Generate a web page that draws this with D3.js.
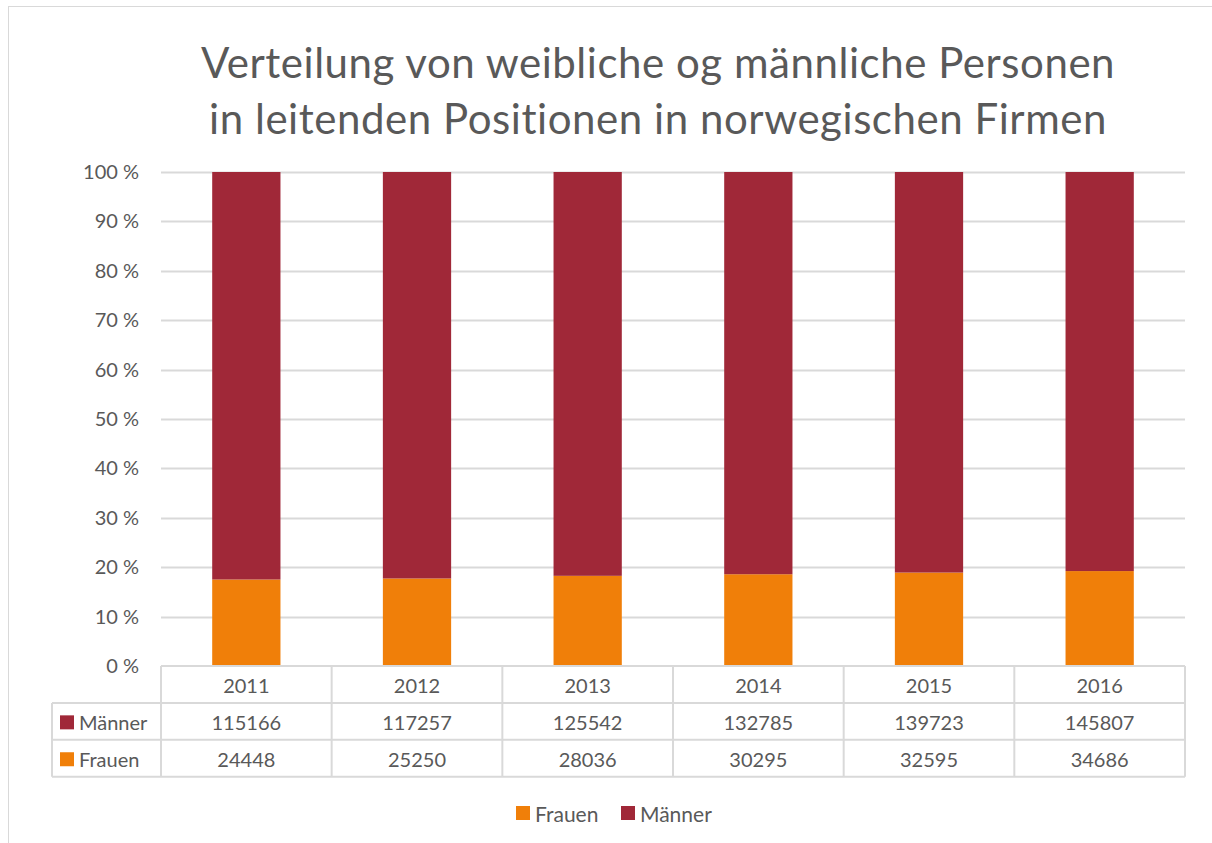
<!DOCTYPE html>
<html>
<head>
<meta charset="utf-8">
<script src="https://cdn.jsdelivr.net/npm/d3@7"></script>
<style>
  html, body { margin: 0; padding: 0; background: #fff; }
  svg { display: block; font-family: Lato, "Open Sans", sans-serif; }
</style>
</head>
<body>
<svg id="chart" width="1212" height="843"></svg>
<script>
const titleLines = ["Verteilung von weibliche og männliche Personen", "in leitenden Positionen in norwegischen Firmen"];
const years = ["2011", "2012", "2013", "2014", "2015", "2016"];
const maenner = [115166, 117257, 125542, 132785, 139723, 145807];
const frauen = [24448, 25250, 28036, 30295, 32595, 34686];
const yTicks = [0, 0.1, 0.2, 0.3, 0.4, 0.5, 0.6, 0.7, 0.8, 0.9, 1.0];
const seriesNames = ["Frauen", "Männer"];
const colors = { "Frauen": "#F07F09", "Männer": "#A02838" };

const svg = d3.select("#chart");
const textColor = "#595959";
const gridColor = "#d9d9d9";

// chart border
svg.append("rect").attr("x", 8.5).attr("y", 6.5).attr("width", 1215).attr("height", 845)
  .attr("fill", "none").attr("stroke", gridColor).attr("stroke-width", 1);

const plot = { left: 161, right: 1185, top: 172, bottom: 666 };

// title
const title = svg.append("g");
titleLines.forEach((t, i) => {
  title.append("text").attr("x", 658).attr("y", 78 + i * 56)
    .attr("text-anchor", "middle").attr("font-size", 42).attr("letter-spacing", 0.55)
    .attr("fill", textColor).text(t);
});

const data = years.map((y, i) => {
  const total = maenner[i] + frauen[i];
  return { year: y, "Frauen": frauen[i] / total, "Männer": maenner[i] / total };
});

const xCol = d3.scaleBand().domain(years).range([plot.left, plot.right]).padding(0);
const xBar = d3.scaleBand().domain(years).range([plot.left, plot.right]).paddingInner(0.6).paddingOuter(0.3);
const y = d3.scaleLinear().domain([0, 1]).range([plot.bottom, plot.top]);

// gridlines
svg.append("g").selectAll("line").data(yTicks.filter(d => d > 0)).join("line")
  .attr("x1", plot.left).attr("x2", plot.right)
  .attr("y1", d => Math.round(y(d)) + 0.5).attr("y2", d => Math.round(y(d)) + 0.5)
  .attr("stroke", gridColor).attr("stroke-width", 2);

// y axis labels
const yAxis = d3.axisLeft(y).tickValues(yTicks).tickSize(0).tickPadding(22)
  .tickFormat(d => Math.round(d * 100) + " %");
const ya = svg.append("g").attr("transform", `translate(${plot.left},0)`).call(yAxis);
ya.select(".domain").remove();
ya.selectAll("text").attr("font-family", "Lato, sans-serif").attr("font-size", 20).attr("fill", textColor);

// stacked bars
const stack = d3.stack().keys(seriesNames)(data);
svg.append("g").selectAll("g").data(stack).join("g")
  .attr("fill", d => colors[d.key])
  .selectAll("rect").data(d => d).join("rect")
  .attr("x", d => xBar(d.data.year))
  .attr("width", xBar.bandwidth())
  .attr("y", d => y(d[1]))
  .attr("height", d => y(d[0]) - y(d[1]));

// data table
const rowTop = plot.bottom, rowH = 36.9;
const tableLeft = 52;
const tg = svg.append("g");
const lineAttrs = sel => sel.attr("stroke", gridColor).attr("stroke-width", 2);
tg.append("line").attr("x1", plot.left).attr("x2", plot.right).attr("y1", rowTop).attr("y2", rowTop).call(lineAttrs);
[1, 2, 3].forEach(r => {
  tg.append("line").attr("x1", tableLeft).attr("x2", plot.right)
    .attr("y1", rowTop + r * rowH).attr("y2", rowTop + r * rowH).call(lineAttrs);
});
years.forEach(yr => {
  tg.append("line").attr("x1", xCol(yr)).attr("x2", xCol(yr)).attr("y1", rowTop).attr("y2", rowTop + 3 * rowH).call(lineAttrs);
});
tg.append("line").attr("x1", plot.right).attr("x2", plot.right).attr("y1", rowTop).attr("y2", rowTop + 3 * rowH).call(lineAttrs);
tg.append("line").attr("x1", tableLeft).attr("x2", tableLeft).attr("y1", rowTop + rowH).attr("y2", rowTop + 3 * rowH).call(lineAttrs);

const cellText = (x, yy, t) => tg.append("text").attr("x", x).attr("y", yy)
  .attr("text-anchor", "middle").attr("dominant-baseline", "central")
  .attr("font-size", 20).attr("fill", textColor).text(t);
years.forEach((yr, i) => {
  const cx = xCol(yr) + xCol.bandwidth() / 2;
  cellText(cx, rowTop + rowH * 0.5 + 1, yr);
  cellText(cx, rowTop + rowH * 1.5 + 1, maenner[i]);
  cellText(cx, rowTop + rowH * 2.5 + 1, frauen[i]);
});
const rowLabels = [["Männer", 1.5], ["Frauen", 2.5]];
rowLabels.forEach(([name, r]) => {
  tg.append("rect").attr("x", 60).attr("y", rowTop + rowH * r - 7 + 1).attr("width", 14).attr("height", 14).attr("fill", colors[name]);
  tg.append("text").attr("x", 79).attr("y", rowTop + rowH * r + 1).attr("dominant-baseline", "central")
    .attr("font-size", 20).attr("fill", textColor).text(name);
});

// legend
const legend = svg.append("g");
const legendItems = [["Frauen", 516], ["Männer", 621]];
legendItems.forEach(([name, x]) => {
  legend.append("rect").attr("x", x).attr("y", 806).attr("width", 14).attr("height", 14).attr("fill", colors[name]);
  legend.append("text").attr("x", x + 19).attr("y", 813).attr("dominant-baseline", "central")
    .attr("font-size", 21).attr("fill", textColor).text(name);
});
</script>
</body>
</html>
